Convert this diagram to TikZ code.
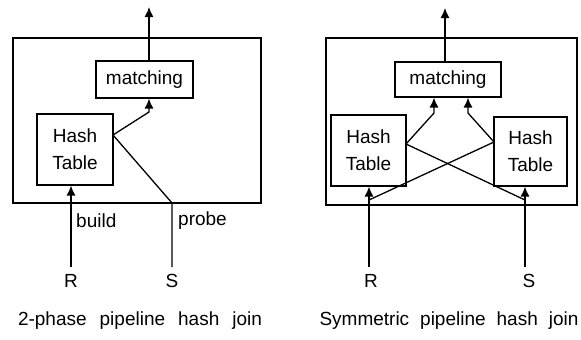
\documentclass[tikz,border=0pt]{standalone}
\usepackage{fontspec}
\setmainfont{Liberation Sans}
\usetikzlibrary{arrows.meta}
\newcommand{\gap}{\hspace{11pt}}
\newcommand{\wgap}{\hspace{13pt}}
\begin{document}
\begin{tikzpicture}[x=1pt,y=-1pt,
  every node/.style={font=\fontsize{19}{27}\selectfont},
  box/.style={draw,line width=1.1pt,inner sep=0pt,align=center},
  frame/.style={draw,line width=1.1pt},
  link/.style={line width=1.3pt},
  arr/.style={link,-{Latex[length=10pt,width=9pt]}},
  lbl/.style={inner sep=0pt}]
\useasboundingbox (0,0) rectangle (581,340);
% ---------- left: 2-phase ----------
\draw[frame] (13,38) rectangle (261,203);
\node[box,minimum width=97pt,minimum height=37pt] (m1) at (144.5,79.5) {matching};
\node[box,minimum width=76pt,minimum height=71pt] (h1) at (75,149.5) {Hash\\Table};
\coordinate (t1) at (149,7);
\coordinate (r1) at (71,267);
\coordinate (s1) at (172,267);
\coordinate (p1) at (172,203);
\coordinate (e1) at (113,135);
\coordinate (k1) at (149,112);
\draw[arr] (m1.north -| t1) -- (t1);
\draw[arr] (r1) -- (h1.south -| r1);
\draw[arr] (s1) -- (p1) -- (e1) -- (k1) -- (m1.south -| k1);
\node[lbl,anchor=west] (b1) at (76,221) {build};
\node[lbl,anchor=west] (pr1) at (178,221) {probe};
\node[lbl] (R1) at (71,281) {R};
\node[lbl] (S1) at (172,281) {S};
\node[lbl] (c1) at (140,321) {2-phase\wgap pipeline\wgap hash\wgap join};
% ---------- right: symmetric ----------
\draw[frame] (326,38) rectangle (577,205);
\node[box,minimum width=106pt,minimum height=35pt] (m2) at (448,79.5) {matching};
\node[box,minimum width=75pt,minimum height=71pt] (hL) at (368.5,150.5) {Hash\\Table};
\node[box,minimum width=73pt,minimum height=69pt] (hR) at (530.5,151.5) {Hash\\Table};
\coordinate (t2) at (445,8);
\coordinate (r2) at (369,267);
\coordinate (s2) at (525,267);
\coordinate (rb) at (369,200);
\coordinate (sb) at (525,200);
\coordinate (eL) at (406,144);
\coordinate (eR) at (494,142);
\coordinate (kL) at (434,113);
\coordinate (kR) at (468,113);
\draw[arr] (m2.north -| t2) -- (t2);
\draw[arr] (r2) -- (hL.south -| r2);
\draw[arr] (s2) -- (hR.south -| s2);
\draw[link] (rb) -- (eR);
\draw[link] (sb) -- (eL);
\draw[arr] (eL) -- (kL) -- (m2.south -| kL);
\draw[arr] (eR) -- (kR) -- (m2.south -| kR);
\node[lbl] (R2) at (371,281) {R};
\node[lbl] (S2) at (529,281) {S};
\node[lbl] (c2) at (449,321) {Symmetric\gap pipeline\gap hash\gap join};
\end{tikzpicture}
\end{document}
